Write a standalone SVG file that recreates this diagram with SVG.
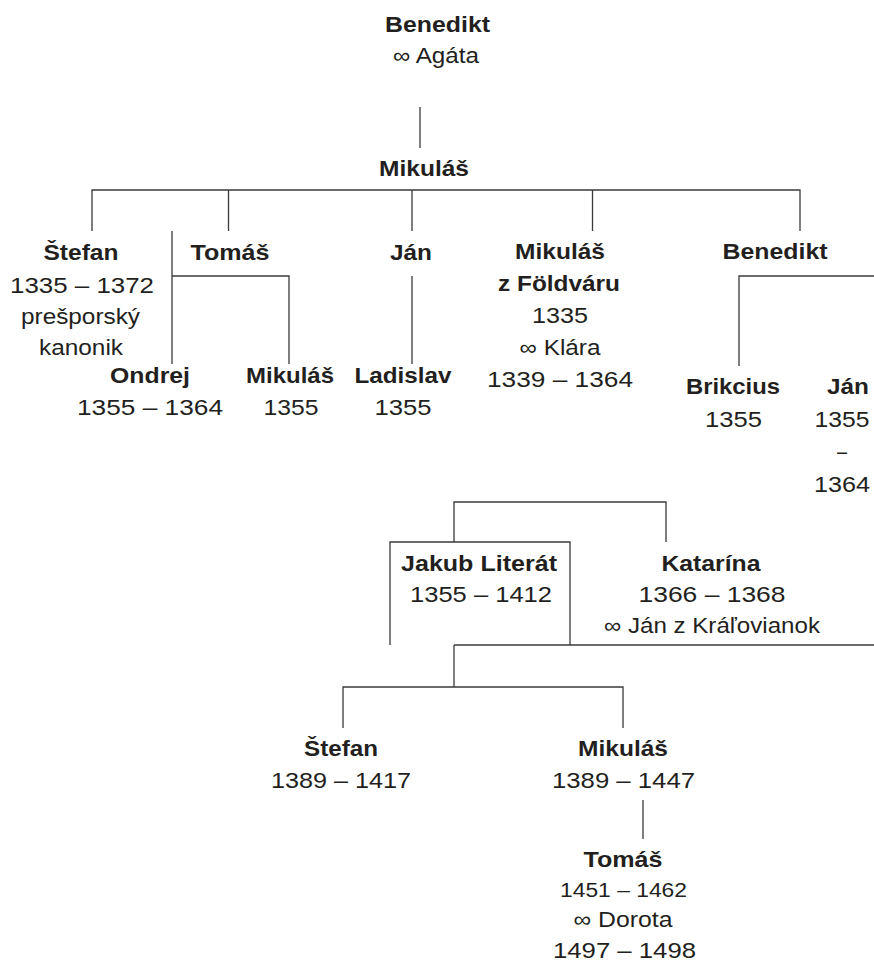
<svg xmlns="http://www.w3.org/2000/svg" width="874" height="963" viewBox="0 0 874 963">
<style>
  text { font-family: "Liberation Sans", Arial, sans-serif; font-size: 21.5px; fill: #231f20; text-anchor: middle; }
  .n { font-weight: bold; }
  .sm { font-size: 20px; }
  .lg { font-size: 22px; }
  .c path { fill: none; stroke: #3a3a3a; stroke-width: 1.3; }
</style>
<rect width="874" height="963" fill="#ffffff"/>
<g class="c" id="connectors">
  <path d="M420,107 V148"/>
  <path d="M92,231 V190 H800 V231"/>
  <path d="M228.5,190 V231"/>
  <path d="M412,190 V231"/>
  <path d="M592.5,190 V231"/>
  <path d="M172,231 V364"/>
  <path d="M172,276 H289 V364"/>
  <path d="M412,276 V364"/>
  <path d="M739,366 V276 H874"/>
  <path d="M454,542 V502 H666 V542"/>
  <path d="M390,645 V542 H570 V645"/>
  <path d="M454,645 H874"/>
  <path d="M454,645 V687"/>
  <path d="M343,728 V687 H623 V728"/>
  <path d="M643,800 V839"/>
</g>
<g id="benedikt-root">
  <text class="n" x="437.5" y="32" textLength="105" lengthAdjust="spacingAndGlyphs">Benedikt</text>
  <text x="436" y="63" textLength="86" lengthAdjust="spacingAndGlyphs">∞ Agáta</text>
</g>
<g id="mikulas-1">
  <text class="n" x="424" y="176" textLength="90" lengthAdjust="spacingAndGlyphs">Mikuláš</text>
</g>
<g id="stefan-1">
  <text class="n" x="81" y="260" textLength="75" lengthAdjust="spacingAndGlyphs">Štefan</text>
  <text x="82" y="293" textLength="144" lengthAdjust="spacingAndGlyphs">1335 – 1372</text>
  <text x="80.5" y="324" textLength="119" lengthAdjust="spacingAndGlyphs">prešporský</text>
  <text x="81" y="355" textLength="84" lengthAdjust="spacingAndGlyphs">kanonik</text>
</g>
<g id="tomas-1">
  <text class="n" x="230" y="260" textLength="79" lengthAdjust="spacingAndGlyphs">Tomáš</text>
</g>
<g id="jan-1">
  <text class="n" x="411" y="260" textLength="42" lengthAdjust="spacingAndGlyphs">Ján</text>
</g>
<g id="mikulas-foldvar">
  <text class="n" x="560" y="259" textLength="90" lengthAdjust="spacingAndGlyphs">Mikuláš</text>
  <text class="n" x="559" y="291" textLength="122" lengthAdjust="spacingAndGlyphs">z Földváru</text>
  <text x="560" y="323" textLength="56" lengthAdjust="spacingAndGlyphs">1335</text>
  <text x="560" y="355" textLength="81" lengthAdjust="spacingAndGlyphs">∞ Klára</text>
  <text x="560" y="387" textLength="146" lengthAdjust="spacingAndGlyphs">1339 – 1364</text>
</g>
<g id="benedikt-2">
  <text class="n" x="775" y="259" textLength="105" lengthAdjust="spacingAndGlyphs">Benedikt</text>
</g>
<g id="ondrej">
  <text class="n" x="150" y="383" textLength="80" lengthAdjust="spacingAndGlyphs">Ondrej</text>
  <text x="150" y="415" textLength="146" lengthAdjust="spacingAndGlyphs">1355 – 1364</text>
</g>
<g id="mikulas-2">
  <text class="n" x="290" y="383" textLength="88" lengthAdjust="spacingAndGlyphs">Mikuláš</text>
  <text x="291" y="415" textLength="55" lengthAdjust="spacingAndGlyphs">1355</text>
</g>
<g id="ladislav">
  <text class="n" x="403" y="383" textLength="97" lengthAdjust="spacingAndGlyphs">Ladislav</text>
  <text x="403" y="415" textLength="57" lengthAdjust="spacingAndGlyphs">1355</text>
</g>
<g id="brikcius">
  <text class="n" x="733" y="394" textLength="94" lengthAdjust="spacingAndGlyphs">Brikcius</text>
  <text x="733.5" y="427" textLength="57" lengthAdjust="spacingAndGlyphs">1355</text>
</g>
<g id="jan-2">
  <text class="n" x="848" y="394" textLength="42" lengthAdjust="spacingAndGlyphs">Ján</text>
  <text x="842" y="427" textLength="55" lengthAdjust="spacingAndGlyphs">1355</text>
  <text x="842" y="459" textLength="10" lengthAdjust="spacingAndGlyphs">–</text>
  <text x="842" y="492" textLength="56" lengthAdjust="spacingAndGlyphs">1364</text>
</g>
<g id="jakub-literat">
  <text class="n" x="479" y="571" textLength="156" lengthAdjust="spacingAndGlyphs">Jakub Literát</text>
  <text x="481" y="602" textLength="142" lengthAdjust="spacingAndGlyphs">1355 – 1412</text>
</g>
<g id="katarina">
  <text class="n" x="711" y="571" textLength="99" lengthAdjust="spacingAndGlyphs">Katarína</text>
  <text x="712" y="602" textLength="147" lengthAdjust="spacingAndGlyphs">1366 – 1368</text>
  <text x="712" y="633" textLength="216" lengthAdjust="spacingAndGlyphs">∞ Ján z Kráľovianok</text>
</g>
<g id="stefan-2">
  <text class="n" x="341" y="756" textLength="74" lengthAdjust="spacingAndGlyphs">Štefan</text>
  <text x="341" y="788" textLength="140" lengthAdjust="spacingAndGlyphs">1389 – 1417</text>
</g>
<g id="mikulas-3">
  <text class="n" x="623" y="756" textLength="90" lengthAdjust="spacingAndGlyphs">Mikuláš</text>
  <text x="623.5" y="788" textLength="143" lengthAdjust="spacingAndGlyphs">1389 – 1447</text>
</g>
<g id="tomas-2">
  <text class="n" x="623" y="867" textLength="79" lengthAdjust="spacingAndGlyphs">Tomáš</text>
  <text class="sm" x="623.5" y="897" textLength="127" lengthAdjust="spacingAndGlyphs">1451 – 1462</text>
  <text class="lg" x="623" y="927" textLength="99" lengthAdjust="spacingAndGlyphs">∞ Dorota</text>
  <text class="lg" x="624.5" y="958" textLength="143" lengthAdjust="spacingAndGlyphs">1497 – 1498</text>
</g>
</svg>
